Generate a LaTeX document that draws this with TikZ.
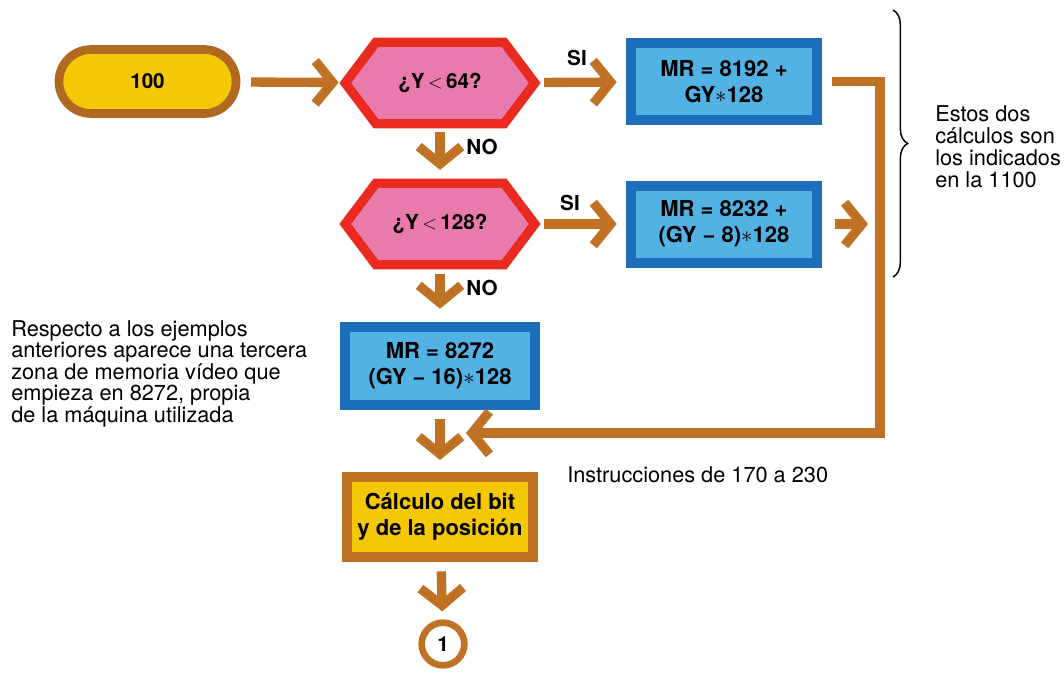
\documentclass[tikz,border=0pt]{standalone}
\usepackage{fontspec}
\setmainfont{TeX Gyre Heros}
\usetikzlibrary{arrows.meta,shapes.misc,decorations.pathreplacing,backgrounds,calc}
\definecolor{brn}{RGB}{192,114,36}
\definecolor{ylw}{RGB}{245,200,5}
\definecolor{redb}{RGB}{234,42,30}
\definecolor{pnk}{RGB}{232,122,172}
\definecolor{bdark}{RGB}{28,110,186}
\definecolor{blight}{RGB}{82,178,228}
\begin{document}
\begin{tikzpicture}[x=0.75pt,y=-0.75pt,
  bold/.style={font=\fontsize{15.5}{18}\selectfont\bfseries, align=center},
  boxtext/.style={font=\fontsize{16.5}{19.5}\selectfont\bfseries, align=center},
  note/.style={font=\fontsize{16.3}{15}\selectfont, align=left, inner sep=0pt},
  pill/.style={rounded rectangle, draw=brn!92!black, fill=ylw, line width=6.5pt,
     minimum width=139.5pt, minimum height=48pt, bold},
  hexnode/.style={rectangle, minimum width=141.75pt, minimum height=60.75pt, bold},
  hexshape/.style={draw=redb, fill=pnk, line width=7pt, line join=miter},
  bbox/.style={rectangle, draw=bdark, fill=blight, line width=7.5pt,
     minimum width=139.5pt, minimum height=57.75pt, inner sep=1pt, boxtext},
  ybox/.style={rectangle, draw=brn, fill=ylw, line width=7.5pt,
     minimum width=140pt, minimum height=60pt, inner sep=1pt,
     font=\fontsize{16.5}{19.5}\selectfont\bfseries, align=center},
  circ/.style={circle, draw=brn, fill=white, line width=5pt,
     minimum size=32pt, inner sep=0pt, bold},
  arr/.style={draw=brn, line width=7pt, line join=miter,
     -{Straight Barb[length=13pt,width=32pt]}},
  lab/.style={font=\fontsize{15.5}{18}\selectfont\bfseries}
]
\useasboundingbox (0,0) rectangle (1064,676);

% nodes
\node[pill] (start) at (147.5,81.5) {100};
\node[hexnode] (h1) at (440,83) {¿Y\,$<$\,64?};
\node[hexnode] (h2) at (440,224) {¿Y\,$<$\,128?};
\node[bbox] (b1) at (724,81.5) {MR = 8192 +\\GY$\ast$128};
\node[bbox] (b2) at (724,224) {MR = 8232 +\\(GY − 8)$\ast$128};
\node[bbox, minimum width=142.5pt, minimum height=58.5pt] (b3) at (440,366) {MR = 8272\\(GY − 16)$\ast$128};
\node[ybox] (yb) at (440,517) {Cálculo del bit\\y de la posición};
\node[circ] (c1) at (443,644) {1};

\begin{scope}[on background layer]
\foreach \h in {h1,h2}
  \path[hexshape] (\h.west) -- ([xshift=23pt]\h.north west) -- ([xshift=-23pt]\h.north east)
     -- (\h.east) -- ([xshift=-23pt]\h.south east) -- ([xshift=23pt]\h.south west) -- cycle;
\end{scope}

% labels
\node[lab] (si1) at (577,58) {SI};
\node[lab] (si2) at (570,203) {SI};
\node[lab] (no1) at (482,147) {NO};
\node[lab] (no2) at (482,288) {NO};

% coordinates for the return line
\coordinate (rb) at (880,433);
\coordinate (m) at (466,433);

% connectors
\draw[arr, shorten <=8pt, shorten >=5pt] (start) -- (h1);
\draw[arr, shorten <=7pt, shorten >=7pt] (h1) -- (b1);
\draw[arr, shorten <=7pt, shorten >=7pt] (h2) -- (b2);
\draw[arr, shorten <=6pt, shorten >=10pt] (h1) -- (h2);
\draw[arr, shorten <=7pt, shorten >=10pt] (h2) -- (b3);
\draw[arr, shorten <=7pt, shorten >=9pt] (b3) -- (yb);
\draw[arr, shorten <=7pt, shorten >=6pt] (yb) -- (c1);
\draw[arr, shorten <=7.5pt] (b1.east) -| (rb) -- (m);
\draw[arr, shorten <=10pt, shorten >=9pt] (b2.east) -- (b2.east -| rb);

% brace and notes
\draw[decorate, decoration={brace, amplitude=11pt}, line width=1.1pt] (893,10) -- (893,277);
\node[note, anchor=north west, font=\fontsize{16.3}{16.5}\selectfont] (t2) at (935,105)
  {Estos dos\\cálculos son\\los indicados\\en la 1100};
\node[note, anchor=north west] (t1) at (11,320)
  {Respecto a los ejemplos\\anteriores aparece una tercera\\zona de memoria vídeo que\\empieza en 8272, propia\\de la máquina utilizada};
\node[note, anchor=base west] (t3) at (567,482) {Instrucciones de 170 a 230};
\end{tikzpicture}
\end{document}
